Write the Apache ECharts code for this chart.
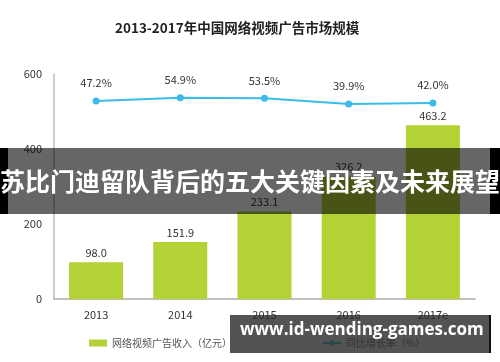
<!DOCTYPE html>
<html><head><meta charset="utf-8">
<script src="https://cdn.jsdelivr.net/npm/echarts@6/dist/echarts.min.js"></script>
<style>html,body{margin:0;padding:0;background:#fff}#c{width:500px;height:362px}</style>
</head><body><div id="c"></div>
<script>
var categories = ['2013', '2014', '2015', '2016', '2017e'];
var revenue = [98.0, 151.9, 233.1, 326.2, 463.2];
var growth = [47.2, 54.9, 53.5, 39.9, 42.0];
var yTicks = [0, 200, 400, 600];
var titleText = '2013-2017年中国网络视频广告市场规模';
var barName = '网络视频广告收入（亿元）';
var lineName = '同比增长率（%）';
var bannerText = '苏比门迪留队背后的五大关键因素及未来展望';
var watermarkText = 'www.id-wending-games.com';

var FONT = '"Noto Sans CJK SC", "Open Sans", sans-serif';
var chart = echarts.init(document.getElementById('c'), null, {renderer: 'canvas'});
chart.setOption({
  animation: false,
  textStyle: {fontFamily: FONT},
  title: {text: titleText, left: 110, top: 16,
    textStyle: {fontSize: 13.5, fontWeight: 'bold', color: '#222', fontFamily: FONT}},
  grid: {left: 54, right: 25, top: 74, bottom: 63},
  legend: {left: 84, top: 333, itemWidth: 18, itemHeight: 7, itemGap: 90,
    textStyle: {fontSize: 10, color: '#555', fontFamily: FONT},
    data: [{name: barName, icon: 'rect'}, {name: lineName}]},
  xAxis: {type: 'category', data: categories,
    axisLine: {lineStyle: {color: '#aaa', width: 1.5}}, axisTick: {show: false},
    axisLabel: {color: '#333', fontSize: 11, margin: 10, fontFamily: FONT}},
  yAxis: [{type: 'value', min: yTicks[0], max: yTicks[yTicks.length - 1], interval: 200,
    axisLine: {show: true, lineStyle: {color: '#bbb', width: 1.5}}, axisTick: {show: false},
    splitLine: {show: false},
    axisLabel: {color: '#333', fontSize: 11, margin: 12, fontFamily: FONT}},
   {type: 'value', min: -437, max: 113, show: false, splitLine: {show: false}}],
  series: [
    {name: barName, type: 'bar', data: revenue, barWidth: 54,
     itemStyle: {color: '#B2D235'},
     label: {show: true, position: 'top', distance: 4, color: '#333', fontSize: 11,
       formatter: function (p) { return p.value.toFixed(1); }}},
    {name: lineName, type: 'line', yAxisIndex: 1, data: growth,
     symbol: 'circle', symbolSize: 7,
     lineStyle: {color: '#3BBCE8', width: 2}, itemStyle: {color: '#3BBCE8'},
     label: {show: true, position: 'top', distance: 9, color: '#333', fontSize: 11,
       formatter: function (p) { return p.value.toFixed(1) + '%'; }}}
  ],
  graphic: [
    {type: 'rect', left: 0, top: 148, shape: {width: 500, height: 66}, z: 100,
     style: {fill: 'rgba(0,0,0,0.6)'}},
    {type: 'rect', left: 0, top: 148, shape: {width: 8, height: 66}, z: 101,
     style: {fill: '#000'}},
    {type: 'rect', left: 490, top: 148, shape: {width: 10, height: 66}, z: 101,
     style: {fill: '#000'}},
    {type: 'text', left: 'center', top: 169, z: 102,
     style: {text: bannerText, fill: '#fff', font: 'bold 25px "Noto Sans CJK SC", sans-serif'}},
    {type: 'rect', left: 230, top: 315, shape: {width: 260, height: 38}, z: 100,
     style: {fill: 'rgba(40,40,40,0.8)'}},
    {type: 'rect', left: 489, top: 315, shape: {width: 2, height: 38}, z: 101,
     style: {fill: '#111'}},
    {type: 'text', left: 240, top: 322, z: 102,
     style: {text: watermarkText, fill: '#fff', font: 'bold 17px "Open Sans", sans-serif'}}
  ]
});
</script></body></html>
